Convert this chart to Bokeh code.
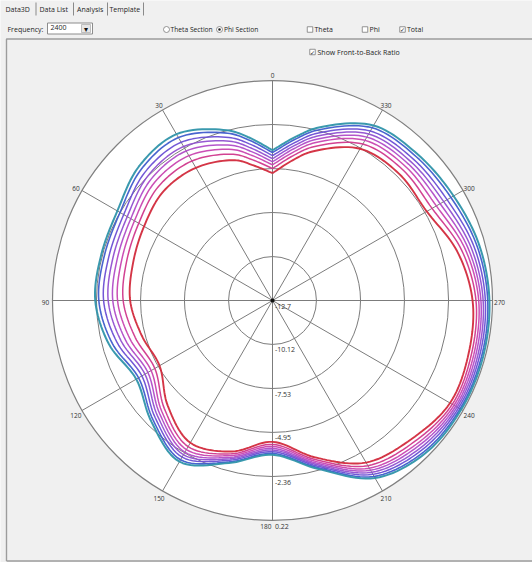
import numpy as np
from bokeh.plotting import figure
from bokeh.models import Range1d
from bokeh.embed import file_html
from bokeh.resources import INLINE
from bokeh.core.properties import value

# ---------------- data (dB, phi section, 2400 MHz) ----------------
angles_deg = [0, 8, 15, 30, 45, 60, 75, 90, 105, 120, 135, 150, 165, 180,
              195, 210, 225, 240, 255, 270, 285, 300, 315, 330, 345, 352]

s_red = [-5.22, -4.69, -4.17, -3.70, -3.64, -3.99, -4.22, -4.34, -4.75, -5.04, -3.99, -3.05, -3.52, -4.40,
         -3.17, -1.71, -1.18, -0.66, -0.77, -0.95, -1.48, -2.24, -2.18, -2.41, -3.64, -4.40]
s_pink = [-4.95, -4.36, -3.81, -3.24, -3.23, -3.63, -3.83, -3.93, -4.35, -4.72, -3.72, -2.79, -3.38, -4.25,
          -3.03, -1.50, -0.95, -0.51, -0.60, -0.75, -1.21, -1.88, -1.86, -2.09, -3.35, -4.12]
s_magenta = [-4.73, -4.10, -3.52, -2.88, -2.90, -3.34, -3.53, -3.60, -4.03, -4.47, -3.50, -2.59, -3.27, -4.13,
             -2.92, -1.33, -0.76, -0.39, -0.46, -0.59, -0.99, -1.59, -1.61, -1.84, -3.11, -3.90]
s_orchid = [-4.55, -3.87, -3.26, -2.56, -2.62, -3.09, -3.26, -3.32, -3.76, -4.25, -3.32, -2.41, -3.17, -4.02,
            -2.82, -1.19, -0.60, -0.28, -0.34, -0.46, -0.81, -1.33, -1.39, -1.62, -2.91, -3.70]
s_purple = [-4.37, -3.66, -3.02, -2.26, -2.35, -2.85, -3.00, -3.05, -3.50, -4.05, -3.14, -2.24, -3.08, -3.92,
            -2.73, -1.05, -0.44, -0.18, -0.22, -0.33, -0.63, -1.09, -1.19, -1.41, -2.72, -3.52]
s_violet = [-4.19, -3.44, -2.79, -1.97, -2.08, -2.61, -2.75, -2.78, -3.24, -3.84, -2.96, -2.08, -2.99, -3.82,
            -2.64, -0.91, -0.29, -0.08, -0.11, -0.20, -0.45, -0.86, -0.98, -1.21, -2.53, -3.34]
s_blue = [-4.01, -3.21, -2.53, -1.65, -1.80, -2.36, -2.48, -2.50, -2.96, -3.62, -2.78, -1.90, -2.89, -3.72,
          -2.54, -0.77, -0.13, 0.02, 0.01, -0.06, -0.27, -0.60, -0.76, -0.99, -2.33, -3.14]
s_teal = [-3.87, -3.05, -2.35, -1.42, -1.59, -2.18, -2.29, -2.29, -2.76, -3.46, -2.64, -1.77, -2.82, -3.64,
          -2.47, -0.66, -0.01, 0.10, 0.10, 0.04, -0.13, -0.42, -0.60, -0.83, -2.18, -3.00]

series_values = [s_red, s_pink, s_magenta, s_orchid, s_purple, s_violet, s_blue, s_teal]
series_colors = ["#d22a3c", "#d0388c", "#c844b0", "#b04cc8", "#9050d0", "#6a4ed4", "#3f5ccc", "#2f93aa"]
series_widths = [1.9, 1.5, 1.5, 1.5, 1.5, 1.5, 1.6, 2.0]

ring_db = [-12.7, -10.12, -7.53, -4.95, -2.36, 0.22]
ring_labels = ["-12.7", "-10.12", "-7.53", "-4.95", "-2.36", "0.22"]
angle_ticks = [0, 30, 60, 90, 120, 150, 180, 210, 240, 270, 300, 330]
angle_labels = ["0", "30", "60", "90", "120", "150", "180", "210", "240", "270", "300", "330"]

# ---------------- geometry ----------------
W, H = 532, 562
CX, CY = 272.0, 300.0          # polar centre in picture pixels
R_PX = 220.0
R_OUT = ring_db[-1] - ring_db[0]
K = R_PX / R_OUT                # pixels per dB

def px(xr):
    return (xr - CX) / K

def py(yr):
    return (CY - yr) / K

def polar(db_vals, ang_deg):
    r = np.asarray(db_vals, float) - ring_db[0]
    t = np.radians(np.asarray(ang_deg, float))
    return -r * np.sin(t), r * np.cos(t)

def centripetal_open(xs, ys, n=12, alpha=0.5):
    """Smooth drawing path through the given points (cusp kept at both ends)."""
    P = np.column_stack([xs, ys])
    P = np.vstack([2 * P[0] - P[1], P, 2 * P[-1] - P[-2]])
    out = []
    for i in range(1, len(P) - 2):
        p0, p1, p2, p3 = P[i - 1], P[i], P[i + 1], P[i + 2]
        t0 = 0.0
        t1 = t0 + max(np.linalg.norm(p1 - p0), 1e-9) ** alpha
        t2 = t1 + max(np.linalg.norm(p2 - p1), 1e-9) ** alpha
        t3 = t2 + max(np.linalg.norm(p3 - p2), 1e-9) ** alpha
        ts = np.linspace(t1, t2, n, endpoint=False)[:, None]
        A1 = (t1 - ts) / (t1 - t0) * p0 + (ts - t0) / (t1 - t0) * p1
        A2 = (t2 - ts) / (t2 - t1) * p1 + (ts - t1) / (t2 - t1) * p2
        A3 = (t3 - ts) / (t3 - t2) * p2 + (ts - t2) / (t3 - t2) * p3
        B1 = (t2 - ts) / (t2 - t0) * A1 + (ts - t0) / (t2 - t0) * A2
        B2 = (t3 - ts) / (t3 - t1) * A2 + (ts - t1) / (t3 - t1) * A3
        C = (t2 - ts) / (t2 - t1) * B1 + (ts - t1) / (t2 - t1) * B2
        out.append(C)
    out.append(P[-2][None, :])
    arr = np.vstack(out)
    return arr[:, 0], arr[:, 1]

p = figure(width=W, height=H, output_backend="svg", toolbar_location=None,
           x_range=Range1d(px(0), px(W)), y_range=Range1d(py(H), py(0)),
           x_axis_location=None, y_axis_location=None, min_border=0)
p.grid.visible = False
p.outline_line_color = None
p.background_fill_color = "#f0f0f0"
p.border_fill_color = "#f0f0f0"

FONT = value("Open Sans")
UI = "#1e1e1e"

# ---------------- UI chrome ----------------
p.line([px(6), px(6), px(600)], [py(560.5), py(38.5), py(38.5)], line_color="#9c9c9c", line_width=1.4)
p.line([px(6), px(600)], [py(560.5), py(560.5)], line_color="#9c9c9c", line_width=1.4)
tab_names = ["Data3D", "Data List", "Analysis", "Template"]
tab_x = [5, 39, 76.5, 109]
p.text(x=[px(v) for v in tab_x], y=[py(8.5)] * 4, text=tab_names, text_font=FONT,
       text_font_size="7px", text_color=UI, text_baseline="middle")
sep_x = [35.5, 73, 107, 143]
p.segment(x0=[px(v) for v in sep_x], y0=[py(2)] * 4, x1=[px(v) for v in sep_x], y1=[py(15)] * 4,
          line_color="#8a8a8a", line_width=1)

p.text(x=[px(7)], y=[py(29)], text=["Frequency:"], text_font=FONT, text_font_size="7px",
       text_color=UI, text_baseline="middle")
p.quad(left=[px(47)], right=[px(92)], top=[py(22.5)], bottom=[py(33.5)],
       fill_color="white", line_color="#8c8c8c", line_width=1)
p.quad(left=[px(81)], right=[px(90)], top=[py(24)], bottom=[py(32)],
       fill_color="#e6e6e6", line_color="#b0b0b0", line_width=0.8)
p.text(x=[px(50)], y=[py(27)], text=["2400"], text_font=FONT, text_font_size="7px",
       text_color=UI, text_baseline="middle")
p.text(x=[px(85.5)], y=[py(28.5)], text=["▾"], text_font=value("DejaVu Sans"), text_font_size="8px",
       text_color="#111", text_align="center", text_baseline="middle")

# radios
p.scatter(x=[px(166), px(219)], y=[py(29), py(29)], marker="circle", size=6,
          fill_color="white", line_color="#7a7a7a", line_width=0.8)
p.scatter(x=[px(219)], y=[py(29)], marker="circle", size=2.6, fill_color="#222", line_color=None)
p.text(x=[px(170), px(223.5)], y=[py(29)] * 2, text=["Theta Section", "Phi Section"],
       text_font=FONT, text_font_size="6.7px", text_color=UI, text_baseline="middle")

# checkboxes
box_x = [309.5, 364.5, 402, 312]
box_y = [29, 29, 29, 51.5]
p.rect(x=[px(v) for v in box_x], y=[py(v) for v in box_y], width=5.5 / K, height=5.5 / K,
       fill_color="white", line_color="#7a7a7a", line_width=0.8)
p.text(x=[px(402), px(312)], y=[py(29), py(51.5)], text=["✓", "✓"], text_font=value("DejaVu Sans"),
       text_font_size="6px", text_font_style="bold", text_color="#222",
       text_align="center", text_baseline="middle")
p.text(x=[px(314), px(369), px(406.5), px(317)], y=[py(29), py(29), py(29), py(51.5)],
       text=["Theta", "Phi", "Total", "Show Front-to-Back Ratio"], text_font=FONT,
       text_font_size="7px", text_color=UI, text_baseline="middle")

# ---------------- polar grid ----------------
p.circle(x=[0], y=[0], radius=R_OUT, fill_color="white", line_color="#808080", line_width=1.2)
ring_r = [v - ring_db[0] for v in ring_db[1:-1]]
p.circle(x=[0] * len(ring_r), y=[0] * len(ring_r), radius=ring_r, fill_color=None,
         line_color="#7c7c7c", line_width=1)
sx, sy = polar([ring_db[-1]] * len(angle_ticks), angle_ticks)
p.segment(x0=[0] * len(angle_ticks), y0=[0] * len(angle_ticks), x1=sx, y1=sy,
          line_color="#7c7c7c", line_width=1)

# ---------------- pattern curves ----------------
for vals, col, lw in zip(series_values, series_colors, series_widths):
    x, y = polar(list(vals) + [vals[0]], list(angles_deg) + [360])
    xs, ys = centripetal_open(x, y)
    p.line(xs, ys, line_color=col, line_width=lw, line_alpha=0.95)

p.scatter(x=[0], y=[0], marker="circle", size=4, fill_color="#111", line_color=None)

# ---------------- labels ----------------
lab_r = 227.0 / K
for a, t in zip(angle_ticks, angle_labels):
    ax, ay = polar([ring_db[0] + lab_r], [a])
    if a == 180:
        p.text(x=[-1.0 / K], y=[ay[0] + 1.0 / K], text=[t], text_font=FONT, text_font_size="6.5px",
               text_color="#333", text_align="right", text_baseline="middle")
    else:
        p.text(x=[ax[0]], y=[ay[0] - 1.5 / K], text=[t], text_font=FONT, text_font_size="6.5px",
               text_color="#333", text_align="center", text_baseline="middle")

ry = [-(v - ring_db[0]) - 5.5 / K for v in ring_db]
p.text(x=[2.5 / K] * len(ring_db), y=ry, text=ring_labels, text_font=FONT, text_font_size="7px",
       text_color="#333", text_align="left", text_baseline="middle")

open("out.html", "w").write(file_html(p, INLINE))
